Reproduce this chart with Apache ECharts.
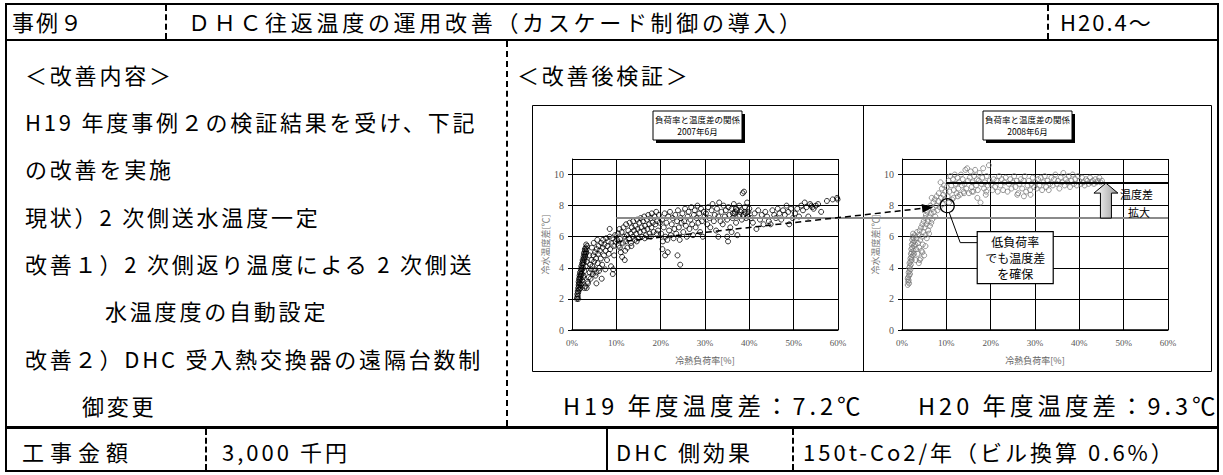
<!DOCTYPE html>
<html>
<head>
<meta charset="utf-8">
<script src="https://cdn.jsdelivr.net/npm/echarts@6/dist/echarts.min.js"></script>
<style>
  html,body{margin:0;padding:0;background:#fff;}
  #page{position:relative;width:1223px;height:475px;overflow:hidden;font-family:"Noto Sans CJK JP",sans-serif;color:#000;}
  .t{position:absolute;height:30px;line-height:30px;font-size:22px;letter-spacing:2.8px;white-space:nowrap;}
  .hl{position:absolute;background:#000;}
  .dv{position:absolute;width:0;border-left:2px dashed #000;}
  .sv{position:absolute;width:2px;background:#000;}
  #chart{position:absolute;left:532px;top:105px;width:680px;height:267px;}
</style>
</head>
<body>
<div id="page">
  <!-- 外枠 -->
  <div style="position:absolute;left:5px;top:3px;width:1214px;height:469px;border:2px solid #000;box-sizing:border-box;"></div>
  <div class="hl" style="left:5px;top:39px;width:1214px;height:2px;"></div>
  <div class="hl" style="left:5px;top:426px;width:1214px;height:3px;"></div>
  <div class="dv" style="left:165px;top:5px;height:34px;"></div>
  <div class="dv" style="left:1047px;top:5px;height:34px;"></div>
  <div class="dv" style="left:506px;top:41px;height:385px;"></div>
  <div class="dv" style="left:205px;top:429px;height:41px;"></div>
  <div class="sv" style="left:606px;top:429px;height:41px;"></div>
  <div class="dv" style="left:792px;top:429px;height:41px;"></div>

  <!-- ヘッダー -->
  <div class="t" style="left:12px;top:6px;letter-spacing:2px;">事例９</div>
  <div class="t" style="left:188px;top:6px;letter-spacing:3.7px;">ＤＨＣ往返温度の運用改善（カスケード制御の導入）</div>
  <div class="t" style="left:1060px;top:6px;letter-spacing:2px;">H20.4～</div>

  <!-- 改善内容 -->
  <div class="t" style="left:25px;top:59px;">＜改善内容＞</div>
  <div class="t" style="left:25px;top:106px;">H19 年度事例２の検証結果を受け、下記</div>
  <div class="t" style="left:25px;top:153px;">の改善を実施</div>
  <div class="t" style="left:25px;top:201px;">現状）2 次側送水温度一定</div>
  <div class="t" style="left:25px;top:248px;">改善１）2 次側返り温度による 2 次側送</div>
  <div class="t" style="left:105px;top:295px;">水温度度の自動設定</div>
  <div class="t" style="left:25px;top:343px;">改善２）DHC 受入熱交換器の遠隔台数制</div>
  <div class="t" style="left:82px;top:390px;">御変更</div>

  <!-- 改善後検証 -->
  <div class="t" style="left:517px;top:59px;">＜改善後検証＞</div>
  <div class="t" style="left:563px;top:390px;font-size:23.5px;letter-spacing:4px;">H19 年度温度差：7.2℃</div>
  <div class="t" style="left:918px;top:390px;font-size:23.5px;letter-spacing:4px;">H20 年度温度差：9.3℃</div>

  <!-- 下段 -->
  <div class="t" style="left:22px;top:436px;letter-spacing:6px;">工事金額</div>
  <div class="t" style="left:222px;top:436px;letter-spacing:3px;">3,000 千円</div>
  <div class="t" style="left:616px;top:436px;letter-spacing:3px;">DHC 側効果</div>
  <div class="t" style="left:803px;top:436px;letter-spacing:3px;">150t-Co2/年（ビル換算 0.6%）</div>

  <div id="chart"></div>
</div>
<script>
// 2007年6月 負荷率[%] と 冷水温度差[℃]
var pts2007 = [
  [1.1,2.0],[1.2,2.1],[1.2,2.3],[1.3,2.2],[1.3,2.5],[1.4,2.4],[1.4,2.7],[1.5,2.6],[1.5,2.9],[1.5,3.1],
  [1.6,2.8],[1.6,3.0],[1.6,3.3],[1.7,3.2],[1.7,3.5],[1.8,3.4],[1.8,3.0],[1.8,3.7],[1.9,3.6],[1.9,3.3],
  [2.0,3.9],[2.0,3.5],[2.1,3.8],[2.1,4.1],[2.2,3.6],[2.2,4.0],[2.3,4.3],[2.3,3.9],[2.4,4.2],[2.4,4.5],
  [2.5,4.4],[2.5,4.0],[2.6,4.7],[2.6,4.3],[2.7,4.6],[2.7,4.9],[2.8,4.5],[2.8,5.0],[2.9,4.8],[2.9,5.2],
  [3.0,4.7],[3.0,5.1],[3.1,5.3],[3.1,4.9],[3.2,5.0],[3.2,5.5],[3.3,5.2],[3.4,5.4],[1.7,2.6],[2.0,2.9],
  [2.3,3.2],[2.6,3.5],[1.4,2.0],[1.9,2.7],[2.2,3.0],[2.5,3.4],[2.8,3.8],[3.1,4.1],[3.3,4.4],[2.8,2.7],
  [3.3,2.7],[3.5,3.1],[3.0,2.8],
  [3.6,3.0],[3.8,3.4],[4.0,3.7],[4.1,4.2],[4.3,3.9],[4.4,4.5],[4.6,4.1],[4.7,3.6],[4.8,4.8],[5.0,4.4],
  [5.1,3.9],[5.2,5.0],[5.4,4.6],[5.5,3.7],[5.6,5.2],[5.8,4.3],[5.9,4.9],[6.0,5.4],[6.2,4.0],[6.3,5.1],
  [8.5,6.5],[6.5,4.6],[6.6,5.6],[6.8,4.2],[6.9,5.3],[7.0,5.8],[7.2,4.8],[7.3,5.5],[7.5,3.9],[7.6,5.1],
  [7.7,5.9],[7.9,4.5],[8.0,5.4],[8.2,5.7],[8.3,4.9],[8.5,6.0],[8.6,5.2],[8.8,4.1],[8.9,5.6],[9.1,5.9],
  [9.2,3.6],[9.4,5.4],[9.5,4.8],[9.7,6.1],[9.8,5.7],[4.2,3.3],[5.3,3.5],[6.1,3.8],[4.9,5.6],[5.7,5.8],
  [3.9,4.8],[4.5,5.3],[5.5,3.0],[6.7,3.3],[9.3,3.9],
  [10.2,5.8],[10.4,6.2],[10.5,5.4],[10.7,6.5],[10.9,5.9],[11.0,5.0],[11.2,6.3],[11.3,4.7],[11.5,5.6],[11.6,6.6],
  [11.8,6.0],[11.9,4.5],[12.1,5.7],[12.2,6.8],[12.4,6.1],[12.5,5.3],[12.7,6.4],[12.9,5.9],[13.0,6.9],[13.2,6.2],
  [13.3,5.6],[13.5,6.6],[13.7,6.0],[13.8,7.0],[14.0,6.4],[14.2,5.8],[14.3,6.7],[14.5,6.2],[14.7,7.1],[14.8,6.5],
  [15.0,5.9],[15.2,6.9],[15.3,6.3],[15.5,7.2],[15.7,6.6],[15.8,6.0],[16.0,7.0],[16.2,6.4],[16.3,7.3],[16.5,6.7],
  [16.7,6.1],[16.9,7.1],[17.0,6.5],[17.2,7.4],[17.4,6.8],[17.5,6.2],[17.7,7.2],[17.9,6.6],[18.0,7.5],[18.2,6.9],
  [18.4,6.3],[18.6,7.3],[18.8,6.8],[19.0,7.6],[19.2,7.0],[19.4,6.4],[19.6,7.4],[19.8,6.9],[10.8,5.3],[12.0,5.1],
  [13.4,5.4],[14.6,5.7],[16.4,5.9],[17.8,6.0],[19.1,6.2],
  [20.1,6.2],[20.3,7.1],[20.5,5.7],[20.7,6.6],[20.9,7.5],[21.1,6.0],[21.3,6.9],[21.5,5.8],[21.7,7.3],[21.9,6.4],
  [22.1,7.6],[22.3,6.1],[22.5,6.8],[22.7,7.2],[22.9,5.9],[23.1,6.5],[23.3,7.4],[23.5,6.2],[23.7,7.0],[23.9,7.7],
  [24.1,6.6],[24.3,5.8],[24.5,7.2],[24.7,6.9],[24.9,7.5],[25.1,6.3],[25.3,7.0],[25.5,7.8],[25.7,6.7],[25.9,6.0],
  [26.1,7.3],[26.3,7.6],[26.5,6.5],[26.7,7.1],[26.9,7.9],[27.1,6.8],[27.3,6.1],[27.5,7.4],[27.7,7.7],[27.9,6.6],
  [28.1,7.2],[28.3,8.0],[28.5,6.9],[28.7,7.5],[28.9,6.3],[29.1,7.8],[29.3,7.0],[29.5,6.0],[29.7,7.6],[29.9,7.3],
  [21.0,4.8],[21.6,5.0],[23.8,4.8],[24.4,4.2],[20.4,5.2],
  [30.2,7.5],[30.5,6.8],[30.7,7.9],[31.0,7.2],[31.2,6.6],[31.5,7.7],[31.7,8.1],[32.0,7.0],[32.2,7.4],[32.5,6.4],
  [32.7,7.8],[33.0,7.3],[33.0,6.0],[33.2,8.2],[33.5,7.0],[33.7,7.6],[34.0,6.8],[34.2,8.0],[34.5,7.3],[34.7,7.7],
  [35.0,6.0],[35.0,7.1],[35.2,5.7],[35.3,7.9],[35.5,7.4],[35.7,6.6],[36.0,7.8],[36.2,7.2],[36.5,8.1],[36.7,7.5],
  [37.0,6.9],[37.2,7.7],[37.5,7.3],[37.7,8.0],[38.0,7.6],[38.3,7.1],[38.5,8.8],[38.8,8.9],[38.7,7.4],[39.0,7.9],
  [39.2,7.5],[39.5,8.2],[39.7,7.3],[40.0,7.8],[36.0,6.3],[37.3,6.1],[36.8,7.6],[37.8,7.4],[38.2,7.7],[38.9,7.6],
  [39.3,7.2],[39.8,7.6],[36.3,7.5],[37.0,7.8],
  [40.4,7.2],[40.8,6.9],[41.2,7.5],[41.6,6.5],[42.0,7.7],[42.4,7.1],[42.8,7.4],[43.2,6.8],[43.6,7.6],[44.0,7.3],
  [44.4,7.0],[44.8,6.8],[45.2,7.7],[45.6,7.4],[46.0,7.2],[46.4,7.8],[46.8,7.5],[47.2,7.1],[47.6,7.7],[48.0,7.4],
  [48.4,8.0],[48.8,7.6],[49.0,6.8],[49.4,7.8],[49.8,7.2],
  [50.3,7.5],[50.8,7.8],[51.2,7.3],[51.7,8.0],[52.1,7.7],[52.5,8.2],[52.9,7.9],[53.3,7.3],[53.7,8.1],[54.0,8.0],
  [54.2,7.9],[54.5,7.8],[55.0,8.0],[55.5,8.1],[56.2,7.6],[57.5,8.3],[58.8,8.4],[59.8,8.5],[59.9,8.4]
];

// 2008年6月 負荷率[%] と 冷水温度差[℃]
var pts2008 = [
  [1.3,2.9],[1.4,3.1],[1.4,3.4],[1.5,3.2],[1.5,3.7],[1.6,3.5],[1.6,4.0],[1.7,3.8],[1.7,4.3],[1.8,4.1],
  [1.8,3.6],[1.9,4.6],[1.9,4.4],[2.0,4.9],[2.0,4.2],[2.1,5.2],[2.1,4.7],[2.2,5.5],[2.2,5.0],[2.3,5.8],
  [2.3,5.3],[2.4,6.0],[2.4,4.8],[2.5,5.6],[2.5,6.2],[2.6,5.1],[2.6,5.9],[2.7,5.4],[2.8,5.7],[2.9,6.1],
  [1.3,3.3],[1.6,3.0],[1.9,3.9],[2.2,4.5],[2.7,4.9],[3.0,5.5],
  [3.1,4.5],[3.2,5.2],[3.3,5.9],[3.4,6.3],[3.5,4.9],[3.6,5.6],[3.7,6.1],[3.8,4.3],[3.9,5.3],[4.0,6.4],
  [4.1,5.8],[4.2,4.6],[4.3,6.6],[4.4,5.1],[4.5,6.0],[4.6,6.8],[4.7,5.5],[4.8,6.3],[4.9,7.0],[5.0,4.8],
  [5.1,6.6],[5.2,7.2],[5.3,6.1],[5.4,7.4],[5.5,6.8],[5.6,5.9],[5.7,7.6],[5.8,7.0],[5.9,6.4],[6.0,7.8],
  [6.2,7.3],[6.3,6.7],[6.4,8.0],[6.5,7.5],[6.7,8.5],[6.8,7.1],[6.9,7.8],[7.1,8.2],[7.2,7.6],[7.4,8.4],
  [7.5,7.3],[7.7,8.0],[7.8,8.6],[8.0,7.7],[8.2,8.3],[8.3,8.8],[8.5,7.9],[8.7,9.5],[8.8,8.5],[9.0,9.1],
  [9.2,8.1],[9.3,8.7],[9.5,9.3],[9.7,8.4],[9.8,8.9],[4.0,4.5],[4.6,5.0],[5.3,5.4],[6.1,6.2],[6.6,6.9],
  [10.1,9.2],[10.3,8.6],[10.5,9.6],[10.7,8.9],[10.9,9.9],[11.1,9.3],[11.3,8.4],[11.5,9.7],[11.7,9.0],[11.9,10.0],
  [12.1,9.4],[12.3,8.8],[12.5,9.8],[12.7,9.1],[12.9,9.5],[13.1,8.7],[13.3,10.0],[13.5,9.3],[13.7,9.7],[13.9,8.9],
  [14.1,9.4],[14.3,10.3],[14.5,9.1],[14.7,10.4],[14.9,9.6],[15.1,8.8],[15.3,9.8],[15.5,10.2],[15.7,9.2],[15.9,9.5],
  [16.1,8.9],[16.3,9.9],[16.5,10.3],[16.7,9.3],[16.9,9.7],[17.1,9.0],[17.3,9.6],[17.5,10.1],[17.7,8.2],[17.9,9.4],
  [18.1,9.8],[18.3,10.4],[18.5,9.1],[18.7,9.5],[18.9,8.7],[19.1,9.9],[19.3,9.3],[19.6,10.6],[19.8,9.6],
  [10.6,8.2],[11.6,8.5],[12.6,8.6],[14.0,8.8],[15.8,8.9],[17.0,8.5],[19.0,8.9],
  [20.1,9.4],[20.4,9.0],[20.7,9.7],[21.0,9.2],[21.3,9.6],[21.6,8.9],[21.9,9.9],[22.2,9.3],[22.5,9.7],[22.8,9.0],
  [23.1,9.5],[23.4,9.8],[23.8,8.9],[24.1,9.4],[24.4,9.7],[24.7,9.1],[25.0,9.5],[25.3,9.9],[25.6,9.2],[25.9,9.6],
  [26.2,8.8],[26.5,9.4],[26.8,9.7],[27.1,9.1],[27.4,9.6],[27.7,9.9],[28.0,8.9],[28.3,9.3],[28.6,9.6],[28.9,9.0],
  [29.2,9.4],[29.5,9.8],[29.8,9.2],[26.0,8.7],[27.5,8.6],[29.0,8.7],
  [30.1,9.5],[30.4,9.1],[30.7,9.7],[31.0,9.3],[31.3,9.8],[31.6,9.0],[31.9,9.5],[32.2,9.9],[32.5,9.2],[32.8,9.6],
  [33.1,9.0],[33.4,9.4],[33.7,9.8],[34.0,9.3],[34.3,9.7],[34.6,10.0],[34.9,9.4],[35.2,9.6],[35.5,9.1],[35.8,9.8],
  [36.1,9.5],[36.4,10.1],[36.7,9.3],[37.0,9.7],[37.3,9.5],[37.6,9.9],[37.9,9.2],[38.2,9.6],[38.5,10.0],[38.8,9.4],
  [39.1,9.7],[39.4,9.3],[39.7,9.9],
  [40.0,9.6],[40.3,9.4],[40.6,9.8],[40.9,9.5],[41.2,9.3],[41.5,9.7],[41.8,9.6],[42.1,9.4],[42.4,9.8],[42.7,9.5],
  [43.0,9.6],[43.3,9.4],[43.6,9.7],[43.9,9.5],[44.2,9.6],[44.5,9.8],[44.8,9.5],[45.1,9.6]
];

var chartTitles = [['負荷率と温度差の関係', '2007年6月'], ['負荷率と温度差の関係', '2008年6月']];
var avgLevels = [7.2, 9.45];          // 温度差の平均線 (H19, H20)
var arrowFrom = [10, 5.65], arrowTo = [7.0, 7.9];
var lowLoadMarks = [[10.2, 5.7], [10.2, 8.0]];
var calloutLines = ['低負荷率', 'でも温度差', 'を確保'];

var chart = echarts.init(document.getElementById('chart'), null, {renderer: 'svg'});

function xAxisOf(i) {
  return {
    gridIndex: i, type: 'value', min: 0, max: 60, interval: 10,
    axisLine: {lineStyle: {color: '#000', width: 1.5}},
    axisTick: {show: false},
    axisLabel: {formatter: '{value}%', color: '#555', fontSize: 9, fontFamily: 'Liberation Serif', margin: 8},
    splitLine: {lineStyle: {color: '#000', width: 1}},
    name: '冷熱負荷率[%]', nameLocation: 'middle', nameGap: 26,
    nameTextStyle: {color: '#666', fontSize: 9, fontFamily: 'Noto Sans CJK JP'}
  };
}
function yAxisOf(i) {
  return {
    gridIndex: i, type: 'value', min: 0, max: 11, interval: 2,
    axisLine: {show: true, lineStyle: {color: '#000', width: 1}},
    axisTick: {show: true, length: 4, lineStyle: {color: '#000'}},
    axisLabel: {color: '#555', fontSize: 10, fontFamily: 'Liberation Serif', margin: 8, showMaxLabel: false},
    splitLine: {lineStyle: {color: '#000', width: 1}},
    name: '冷水温度差[℃]', nameLocation: 'middle', nameRotate: 90, nameGap: 22,
    nameTextStyle: {color: '#777', fontSize: 9, fontFamily: 'Noto Sans CJK JP'}
  };
}
function scatterOf(i, data, color) {
  return {
    type: 'scatter', xAxisIndex: i, yAxisIndex: i, data: data,
    symbol: 'circle', symbolSize: 5,
    itemStyle: {color: 'rgba(255,255,255,0)', borderColor: color, borderWidth: 1},
    emphasis: {disabled: true}, silent: true, z: 2
  };
}

chart.setOption({
  animation: false,
  grid: [
    {left: 40, top: 54, width: 266, height: 171},
    {left: 370, top: 54, width: 266, height: 171}
  ],
  xAxis: [xAxisOf(0), xAxisOf(1)],
  yAxis: [yAxisOf(0), yAxisOf(1)],
  series: [scatterOf(0, pts2007, '#000'), scatterOf(1, pts2008, '#7a7a7a')]
});

function px(g, p) { return chart.convertToPixel({gridIndex: g}, p); }

var gr = [];
// 外枠と仕切り
gr.push({type: 'rect', shape: {x: 0.5, y: 0.5, width: 679, height: 266}, style: {fill: 'none', stroke: '#000', lineWidth: 1}, z: 1});
gr.push({type: 'line', shape: {x1: 331.5, y1: 0, x2: 331.5, y2: 267}, style: {stroke: '#000', lineWidth: 1}, z: 1});

// タイトル枠
var boxX = [121, 451];
chartTitles.forEach(function (tl, i) {
  var x = boxX[i];
  gr.push({type: 'rect', shape: {x: x + 3, y: 9, width: 89, height: 29}, style: {fill: '#000'}, z: 20});
  gr.push({type: 'rect', shape: {x: x, y: 6, width: 89, height: 29}, style: {fill: '#fff', stroke: '#000', lineWidth: 1}, z: 21});
  gr.push({type: 'text', x: x + 44.5, y: 14, style: {text: tl[0], fill: '#000', font: '8.5px "Noto Sans CJK JP"', align: 'center', verticalAlign: 'middle'}, z: 22});
  gr.push({type: 'text', x: x + 44.5, y: 26, style: {text: tl[1], fill: '#000', font: '8.5px "Noto Sans CJK JP"', align: 'center', verticalAlign: 'middle'}, z: 22});
});

// 平均線
var a0 = px(0, [10, avgLevels[0]]), a1 = px(1, [60, avgLevels[0]]);
gr.push({type: 'line', shape: {x1: a0[0], y1: a0[1], x2: a1[0], y2: a1[1]}, style: {stroke: '#8a8a8a', lineWidth: 2}, z: 5});
var b0 = px(1, [10, avgLevels[1]]), b1 = px(1, [60, avgLevels[1]]);
gr.push({type: 'line', shape: {x1: b0[0], y1: b0[1], x2: b1[0], y2: b1[1]}, style: {stroke: '#000', lineWidth: 2}, z: 5});

// 低負荷率の丸印
var c0 = px(0, lowLoadMarks[0]), c1 = px(1, lowLoadMarks[1]);
gr.push({type: 'circle', shape: {cx: c0[0], cy: c0[1], r: 7}, style: {fill: 'none', stroke: '#888', lineWidth: 1.5}, z: 6});
gr.push({type: 'circle', shape: {cx: c1[0], cy: c1[1], r: 7}, style: {fill: 'none', stroke: '#000', lineWidth: 1.3}, z: 6});

// 破線矢印
var s = px(0, arrowFrom), e = px(1, arrowTo);
var dx = e[0] - s[0], dy = e[1] - s[1], len = Math.sqrt(dx * dx + dy * dy);
var ux = dx / len, uy = dy / len;
gr.push({type: 'line', shape: {x1: s[0], y1: s[1], x2: e[0] - ux * 9, y2: e[1] - uy * 9}, style: {stroke: '#000', lineWidth: 1.5, lineDash: [6, 4]}, z: 7});
gr.push({type: 'polygon', shape: {points: [
  [e[0], e[1]],
  [e[0] - ux * 11 - uy * 4.5, e[1] - uy * 11 + ux * 4.5],
  [e[0] - ux * 11 + uy * 4.5, e[1] - uy * 11 - ux * 4.5]
]}, style: {fill: '#000'}, z: 7});

// 吹き出し
gr.push({type: 'polyline', shape: {points: [[c1[0] + 2, c1[1] + 7], [c1[0] + 13, c1[1] + 37], [c1[0] + 30, c1[1] + 37]]}, style: {stroke: '#000', lineWidth: 1, fill: 'none'}, z: 8});
gr.push({type: 'rect', shape: {x: c1[0] + 30, y: c1[1] + 26, width: 76, height: 52}, style: {fill: '#fff', stroke: '#000', lineWidth: 1.2}, z: 9});
calloutLines.forEach(function (t, k) {
  gr.push({type: 'text', x: c1[0] + 68, y: c1[1] + 36 + k * 16, style: {text: t, fill: '#000', font: '12px "Noto Sans CJK JP"', align: 'center', verticalAlign: 'middle', lineHeight: 14}, z: 10});
});

// 温度差拡大の矢印
var up = px(1, [46, avgLevels[1]]), dn = px(1, [46, avgLevels[0]]);
var cx = up[0];
gr.push({type: 'polygon', shape: {points: [
  [cx, up[1]], [cx + 12, up[1] + 10], [cx + 5.5, up[1] + 10], [cx + 5.5, dn[1]],
  [cx - 5.5, dn[1]], [cx - 5.5, up[1] + 10], [cx - 12, up[1] + 10]
]}, style: {
  fill: {type: 'linear', x: 0, y: 0, x2: 1, y2: 0, colorStops: [{offset: 0, color: '#fff'}, {offset: 1, color: '#9a9a9a'}]},
  stroke: '#000', lineWidth: 1
}, z: 9});
gr.push({type: 'text', x: cx + 14, y: up[1] + 11, style: {text: '温度差', fill: '#000', font: '11px "Noto Sans CJK JP"', verticalAlign: 'middle'}, z: 10});
gr.push({type: 'text', x: cx + 22, y: up[1] + 29, style: {text: '拡大', fill: '#000', font: '11px "Noto Sans CJK JP"', verticalAlign: 'middle'}, z: 10});

chart.setOption({graphic: gr});
</script>
</body>
</html>
